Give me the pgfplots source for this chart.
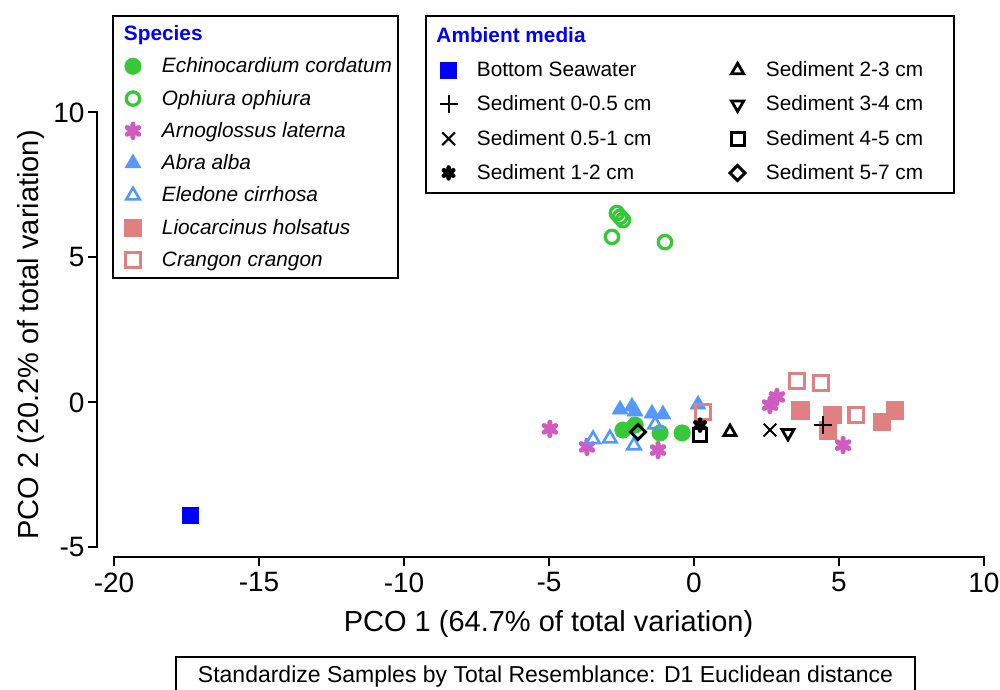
\documentclass[border=0pt]{standalone}
\usepackage{pgfplots}
\pgfplotsset{compat=1.18}
\usepackage{fontspec}
\setmainfont{Liberation Sans}
\definecolor{cgreen}{RGB}{55,200,55}
\definecolor{cpink}{RGB}{208,92,192}
\definecolor{cblue}{RGB}{85,153,255}
\definecolor{csalmon}{RGB}{224,128,128}
\definecolor{ctitle}{RGB}{0,0,255}
\pgfplotsset{
  base/.style={
    x=29pt, y=29pt,
    xmin=-20.586, xmax=10, ymin=-5.328, ymax=10,
    clip=false,
    axis x line*=bottom, axis y line*=left,
    axis line style={draw=none},
  },
  spimg/.style={only marks, legend image code/.code={\path[draw=none,fill=none] (0pt,-10pt) rectangle (42.5pt,10pt); \draw[##1] plot coordinates {(13.5pt,0pt)};}},
  amimg/.style={only marks, legend image code/.code={\path[draw=none,fill=none] (0pt,-10pt) rectangle (45pt,10pt); \draw[##1] plot coordinates {(16.6pt,0pt)};}},
}
\begin{document}
\begin{tikzpicture}
\begin{axis}[base,
  xtick={-20,-15,-10,-5,0,5,10},
  ytick={-5,0,5,10},
  tick align=outside,
  major tick length=9pt,
  tick style={black, line width=2pt},
  /pgf/number format/assume math mode=true,
  ticklabel style={font=\fontsize{28}{30}\selectfont},
  xticklabel style={yshift=-3pt},
  legend style={at={(axis cs:-20.052,13.362)}, anchor=north west, draw=black, line width=2pt, fill=white,
     inner xsep=6pt, inner ysep=7.5pt, row sep=11.3pt, column sep=0pt,
     font=\fontsize{20.8}{24}\selectfont,
     nodes={inner sep=0pt, text height=17pt, text depth=4pt, draw=none}},
  legend cell align=left,
]
\addlegendimage{legend image code/.code={\path[draw=none,fill=none] (0pt,-10pt) rectangle (42.5pt,10pt);}}
\addlegendentry{\hspace*{-38pt}\textcolor{ctitle}{\bfseries Species}}

\addplot[spimg, mark=*, mark size=8.3pt, mark options={draw=cgreen, fill=cgreen, line width=0.4pt}] coordinates {
(-2.45,-0.95) (-2.03,-0.78) (-1.17,-1.05) (-0.41,-1.05)};
\addlegendentry{\itshape Echinocardium cordatum}

\addplot[spimg, mark=o, mark size=6.7pt, mark options={draw=cgreen, fill=white, line width=3.3pt}] coordinates {
(-2.66,6.53) (-2.55,6.40) (-2.45,6.29) (-2.83,5.71) (-1.00,5.53)};
\addlegendentry{\itshape Ophiura ophiura}

\addplot[spimg, mark=asterisk, mark size=6.7pt, mark options={draw=cpink, line width=5pt, line cap=round}] coordinates {
(-4.97,-0.91) (-3.69,-1.53) (-1.24,-1.64) (2.62,-0.09) (2.86,0.19) (5.14,-1.47)};
\addlegendentry{\itshape Arnoglossus laterna}

\addplot[spimg, mark=triangle*, mark size=9.3pt, mark options={draw=cblue, fill=cblue, line width=0.4pt}] coordinates {
(-2.55,-0.24) (-2.14,-0.14) (-2.03,-0.31) (-1.45,-0.38) (-1.07,-0.41) (0.14,-0.07)};
\addlegendentry{\itshape Abra alba}

\addplot[spimg, mark=triangle, mark size=7.7pt, mark options={draw=cblue, fill=white, line width=2.6pt}] coordinates {
(-3.48,-1.27) (-2.90,-1.24) (-2.07,-1.48) (-1.34,-0.76)};
\addlegendentry{\itshape Eledone cirrhosa}

\addplot[spimg, mark=square*, mark size=8.7pt, mark options={draw=csalmon, fill=csalmon, line width=0.4pt}] coordinates {
(3.66,-0.26) (4.76,-0.43) (4.62,-0.95) (6.48,-0.67) (6.93,-0.26)};
\addlegendentry{\itshape Liocarcinus holsatus}

\addplot[spimg, mark=square, mark size=7.2pt, mark options={draw=csalmon, fill=white, line width=3.2pt}] coordinates {
(0.31,-0.33) (3.55,0.74) (4.38,0.67) (5.59,-0.43)};
\addlegendentry{\itshape Crangon crangon}

\coordinate (TL) at (axis cs:-23.931,13.879);
\coordinate (BR) at (axis cs:10.552,-9.914);
\draw[line width=2pt, line cap=rect] (axis cs:-20,-5.328) -- (axis cs:10,-5.328);
\draw[line width=2pt, line cap=rect] (axis cs:-20.586,-5) -- (axis cs:-20.586,10);
\node[font=\fontsize{29}{32}\selectfont] at (axis cs:-5.017,-7.638) {PCO 1 (64.7\% of total variation)};
\node[font=\fontsize{29}{32}\selectfont, rotate=90] at (axis cs:-22.85,2.328) {PCO 2 (20.2\% of total variation)};
\node[draw, line width=2pt, minimum width=739pt, minimum height=40pt, inner sep=0pt, font=\fontsize{23}{26}\selectfont] at (axis cs:-5.121,-9.466) {Standardize Samples by Total Resemblance: D1 Euclidean distance};
\end{axis}

\begin{axis}[base, hide axis,
  legend style={at={(axis cs:-9.276,13.362)}, anchor=north west, draw=black, line width=2pt, fill=white,
     inner xsep=6pt, inner ysep=9.5pt, row sep=13.25pt, column sep=0pt,
     font=\fontsize{20.8}{24}\selectfont,
     nodes={inner sep=0pt, text height=17pt, text depth=4pt, draw=none}},
  legend columns=2,
  legend cell align=left,
]
\addlegendimage{legend image code/.code={\path[draw=none,fill=none] (0pt,-10pt) rectangle (45pt,10pt);}}
\addlegendentry{\hspace*{-40.5pt}\textcolor{ctitle}{\bfseries Ambient media}}
\addlegendimage{legend image code/.code={\path[draw=none,fill=none] (0pt,-10pt) rectangle (45pt,10pt);}}
\addlegendentry{}

\addplot[amimg, mark=square*, mark size=8pt, mark options={draw=blue, fill=blue, line width=0.4pt}] coordinates {(-17.38,-3.88)};
\addlegendentry{\makebox[244pt][l]{Bottom Seawater}}
\addplot[amimg, mark=triangle, mark size=7pt, mark options={draw=black, line width=2.8pt}] coordinates {(1.24,-1.02)};
\addlegendentry{\makebox[182pt][l]{Sediment 2-3 cm}}

\addplot[amimg, mark=+, mark size=9pt, mark options={draw=black, line width=2pt}] coordinates {(4.45,-0.78)};
\addlegendentry{\makebox[244pt][l]{Sediment 0-0.5 cm}}
\addplot[amimg, mark=triangle, mark size=7pt, mark options={draw=black, line width=2.8pt, rotate=180}] coordinates {(3.24,-1.05)};
\addlegendentry{\makebox[182pt][l]{Sediment 3-4 cm}}

\addplot[amimg, mark=x, mark size=9pt, mark options={draw=black, line width=2pt}] coordinates {(2.62,-0.95)};
\addlegendentry{\makebox[244pt][l]{Sediment 0.5-1 cm}}
\addplot[amimg, mark=square, mark size=6.5pt, mark options={draw=black, line width=3pt}] coordinates {(0.21,-1.12)};
\addlegendentry{\makebox[182pt][l]{Sediment 4-5 cm}}

\addplot[amimg, mark=asterisk, mark size=5.5pt, mark options={draw=black, line width=4.5pt, line cap=round}] coordinates {(0.21,-0.78)};
\addlegendentry{\makebox[244pt][l]{Sediment 1-2 cm}}
\addplot[amimg, mark=square, mark size=5.3pt, mark options={draw=black, line width=3pt, rotate=45}] coordinates {(-1.93,-1.02)};
\addlegendentry{\makebox[182pt][l]{Sediment 5-7 cm}}
\end{axis}
\pgfresetboundingbox
\path[use as bounding box] (TL) rectangle (BR);
\end{tikzpicture}
\end{document}
